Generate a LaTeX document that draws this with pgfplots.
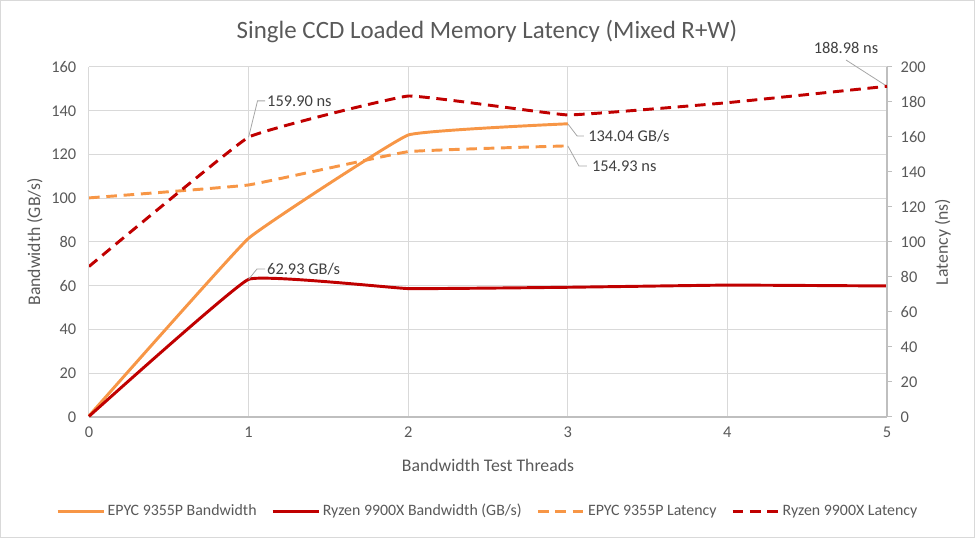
\documentclass[border=0pt]{standalone}
\usepackage{fontspec}
\setmainfont{Carlito}
\usepackage{pgfplots}
\pgfplotsset{compat=1.18}
\definecolor{orng}{HTML}{F79646}
\definecolor{dred}{HTML}{C00000}
\definecolor{txt}{HTML}{595959}
\definecolor{lbl}{HTML}{404040}
\definecolor{gridc}{HTML}{D9D9D9}
\definecolor{axc}{HTML}{BFBFBF}
\definecolor{lead}{HTML}{A6A6A6}
\begin{document}
\begin{tikzpicture}
\path[use as bounding box] (-66.75pt,-90.75pt) rectangle (664.5pt,312.75pt);
\draw[gridc, line width=1pt] (-66.25pt,-90.25pt) rectangle (664pt,312.25pt);
\node[text=txt, font=\fontsize{18.7}{21}\selectfont] at (298.5pt,288.75pt) {Single CCD Loaded Memory Latency (Mixed R+W)};
\begin{axis}[
  at={(0,0)}, anchor=south west, scale only axis,
  width=598.5pt, height=262.5pt,
  xmin=0, xmax=5, ymin=0, ymax=160,
  xtick={0,1,2,3,4,5}, ytick={0,20,...,160},
  axis x line*=bottom, axis y line*=left,
  x axis line style={axc, line width=0.9pt, -},
  y axis line style={gridc, line width=0.75pt, -},
  major tick length=0pt,
  grid=major, major grid style={gridc, line width=0.75pt},
  /pgf/number format/assume math mode=true,
  ticklabel style={font=\fontsize{12.3}{14}\selectfont, text=txt},
  yticklabel style={xshift=-6pt},
  xticklabel style={yshift=-4pt},
  xlabel={Bandwidth Test Threads},
  ylabel={Bandwidth (GB/s)},
  label style={font=\fontsize{13.3}{15}\selectfont, text=txt},
  xlabel style={at={(axis description cs:0.5,-0.137)}, anchor=center},
  ylabel style={at={(axis description cs:-0.0677,0.5)}, anchor=center},
  clip=false,
  legend style={at={(axis description cs:0.5,-0.269)}, anchor=center, draw=none,
    font=\fontsize{11.9}{14}\selectfont, text=txt,
    /tikz/every even column/.append style={column sep=9pt}},
  legend columns=4,
  legend image code/.code={\draw[#1] (0pt,0pt) -- (34.5pt,0pt);},
]
\addplot[orng, line width=2.2pt, smooth, tension=0.15] coordinates {(0,0.5)(1,81.7)(2,128.9)(3,134.04)};
\addlegendentry{EPYC 9355P Bandwidth}
\addplot[dred, line width=2.2pt, smooth, tension=0.15] coordinates {(0,0.3)(1,62.93)(2,58.7)(3,59.3)(4,60.3)(5,59.9)};
\addlegendentry{Ryzen 9900X Bandwidth (GB/s)}
\addlegendimage{orng, line width=2.2pt, dash pattern=on 8pt off 5pt}
\addlegendentry{EPYC 9355P Latency}
\addlegendimage{dred, line width=2.2pt, dash pattern=on 8pt off 5pt}
\addlegendentry{Ryzen 9900X Latency}
% annotations
\draw[lead, line width=0.6pt] (axis cs:1,127.92) -- (axis cs:1.056,144.5) -- (axis cs:1.103,144.5);
\node[anchor=west, inner sep=0pt, text=lbl, font=\fontsize{12.3}{14}\selectfont] at (axis cs:1.115,144.5) {159.90 ns};
\draw[lead, line width=0.6pt] (axis cs:1,62.93) -- (axis cs:1.053,67.7) -- (axis cs:1.103,67.7);
\node[anchor=west, inner sep=0pt, text=lbl, font=\fontsize{12.3}{14}\selectfont] at (axis cs:1.115,67.7) {62.93 GB/s};
\draw[lead, line width=0.6pt] (axis cs:3,134.04) -- (axis cs:3.058,128.5) -- (axis cs:3.10,128.5);
\node[anchor=west, inner sep=0pt, text=lbl, font=\fontsize{12.3}{14}\selectfont] at (axis cs:3.127,128.5) {134.04 GB/s};
\draw[lead, line width=0.6pt] (axis cs:3,123.94) -- (axis cs:3.07,114.7) -- (axis cs:3.12,114.7);
\node[anchor=west, inner sep=0pt, text=lbl, font=\fontsize{12.3}{14}\selectfont] at (axis cs:3.15,114.7) {154.93 ns};
\draw[lead, line width=0.6pt] (axis cs:5,151.18) -- (axis cs:4.743,163.2);
\node[anchor=center, inner sep=0pt, text=lbl, font=\fontsize{12.3}{14}\selectfont] at (axis cs:4.743,168.9) {188.98 ns};
\end{axis}
\begin{axis}[
  at={(0,0)}, anchor=south west, scale only axis,
  width=598.5pt, height=262.5pt,
  xmin=0, xmax=5, ymin=0, ymax=200,
  ytick={0,20,...,200},
  axis x line=none, axis y line*=right,
  y axis line style={axc, line width=0.9pt, -},
  tick align=outside, major tick length=3.75pt,
  tick style={axc, line width=0.75pt},
  /pgf/number format/assume math mode=true,
  ticklabel style={font=\fontsize{12.3}{14}\selectfont, text=txt},
  yticklabel style={xshift=3pt},
  ylabel={Latency (ns)},
  label style={font=\fontsize{13.3}{15}\selectfont, text=txt},
  ylabel style={at={(axis description cs:1.070,0.5)}, anchor=center, rotate=0},
]
\addplot[orng, line width=2.2pt, dash pattern=on 8pt off 5pt, smooth, tension=0.15] coordinates {(0,125.2)(1,132.6)(2,151.6)(3,154.93)};
\addplot[dred, line width=2.2pt, dash pattern=on 8pt off 5pt, smooth, tension=0.15] coordinates {(0,86.0)(1,159.90)(2,183.4)(3,172.6)(4,179.6)(5,188.98)};
\end{axis}
\end{tikzpicture}
\end{document}
